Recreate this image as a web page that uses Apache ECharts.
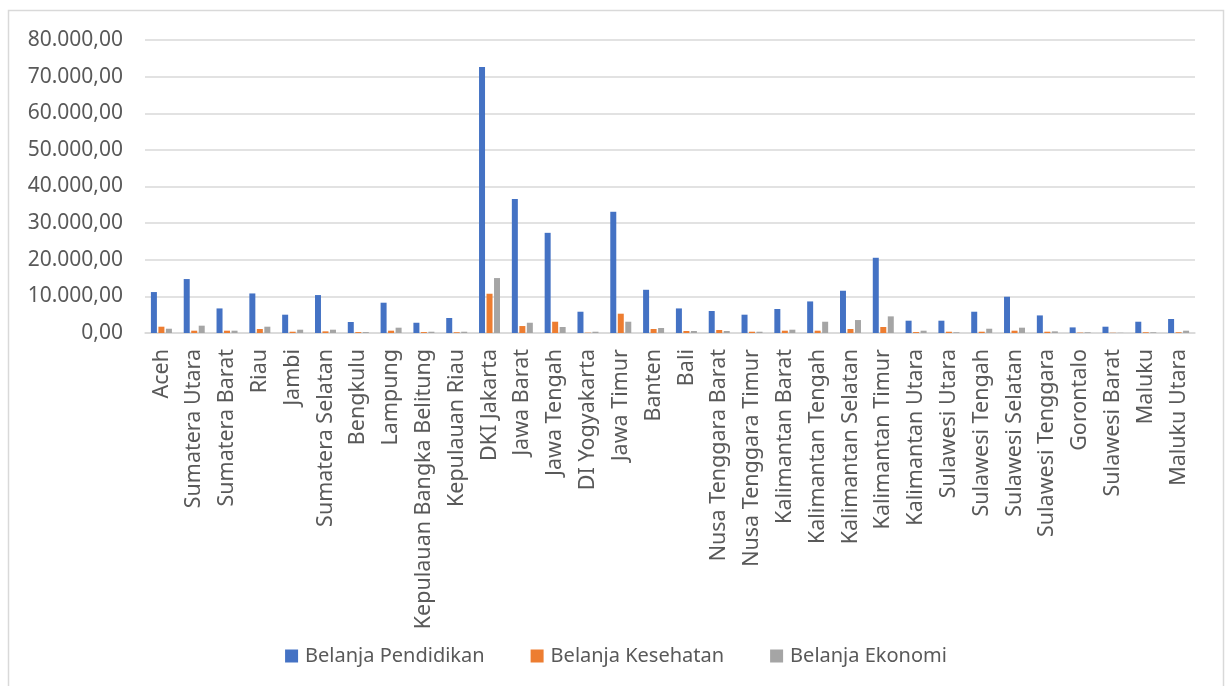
<!DOCTYPE html>
<html>
<head>
<meta charset="utf-8">
<script src="https://cdn.jsdelivr.net/npm/echarts@6/dist/echarts.min.js"></script>
<style>
html,body{margin:0;padding:0;background:#fff;}
#c{width:1232px;height:686px;}
</style>
</head>
<body>
<div id="c"></div>
<script>
const categories = ["Aceh","Sumatera Utara","Sumatera Barat","Riau","Jambi","Sumatera Selatan","Bengkulu","Lampung","Kepulauan Bangka Belitung","Kepulauan Riau","DKI Jakarta","Jawa Barat","Jawa Tengah","DI Yogyakarta","Jawa Timur","Banten","Bali","Nusa Tenggara Barat","Nusa Tenggara Timur","Kalimantan Barat","Kalimantan Tengah","Kalimantan Selatan","Kalimantan Timur","Kalimantan Utara","Sulawesi Utara","Sulawesi Tengah","Sulawesi Selatan","Sulawesi Tenggara","Gorontalo","Sulawesi Barat","Maluku","Maluku Utara"];
const pendidikan = [11180,14730,6710,10800,5000,10360,3000,8270,2800,4100,72600,36600,27350,5810,33100,11800,6710,6000,5000,6560,8620,11540,20540,3360,3360,5810,9900,4800,1530,1720,3080,3820];
const kesehatan = [1720,630,630,1090,350,450,250,630,250,200,10720,1900,3080,80,5270,1090,550,820,350,630,630,1090,1640,250,350,350,630,350,100,60,200,200];
const ekonomi = [1170,2000,630,1720,900,900,250,1450,350,350,15000,2800,1640,350,3080,1360,550,550,350,900,3080,3540,4540,630,200,1170,1450,450,200,60,200,630];
const seriesNames = ["Belanja Pendidikan","Belanja Kesehatan","Belanja Ekonomi"];
const colors = ["#4472C4","#ED7D31","#A5A5A5"];

const FONT = "Noto Sans";
function fmt(v){
  const s = Math.round(v).toString().replace(/\B(?=(\d{3})+(?!\d))/g, ".");
  return s + ",00";
}
const chart = echarts.init(document.getElementById('c'));
const mk = (name, data, i) => ({
  name: name, type: 'bar', data: data, barWidth: 6, barGap: '25%',
  itemStyle: {color: colors[i]}
});
chart.setOption({
  animation: false,
  color: colors,
  textStyle: {fontFamily: FONT},
  graphic: [{
    type: 'rect', shape: {x: 8.5, y: 10.5, width: 1215, height: 690},
    style: {fill: 'none', stroke: '#d9d9d9', lineWidth: 1.5}, silent: true
  }],
  grid: {left: 145, right: 37, top: 40, bottom: 353},
  legend: {
    bottom: 15, left: 'center', itemWidth: 13, itemHeight: 13, itemGap: 46,
    icon: 'rect',
    textStyle: {color: '#595959', fontSize: 20, fontFamily: FONT, padding: [0, 0, 0, 2]},
    data: seriesNames
  },
  xAxis: {
    type: 'category', data: categories,
    axisLine: {lineStyle: {color: '#d9d9d9', width: 1.5}},
    axisTick: {show: false},
    axisLabel: {rotate: 90, interval: 0, color: '#595959', fontSize: 21.5, fontFamily: FONT, margin: 16}
  },
  yAxis: {
    type: 'value', min: 0, max: 80000, interval: 10000,
    axisLine: {show: false}, axisTick: {show: false},
    splitLine: {lineStyle: {color: '#d9d9d9', width: 1.5}},
    axisLabel: {color: '#595959', fontSize: 21, fontFamily: FONT, margin: 22, formatter: fmt}
  },
  series: [mk(seriesNames[0], pendidikan, 0), mk(seriesNames[1], kesehatan, 1), mk(seriesNames[2], ekonomi, 2)]
});
</script>
</body>
</html>
